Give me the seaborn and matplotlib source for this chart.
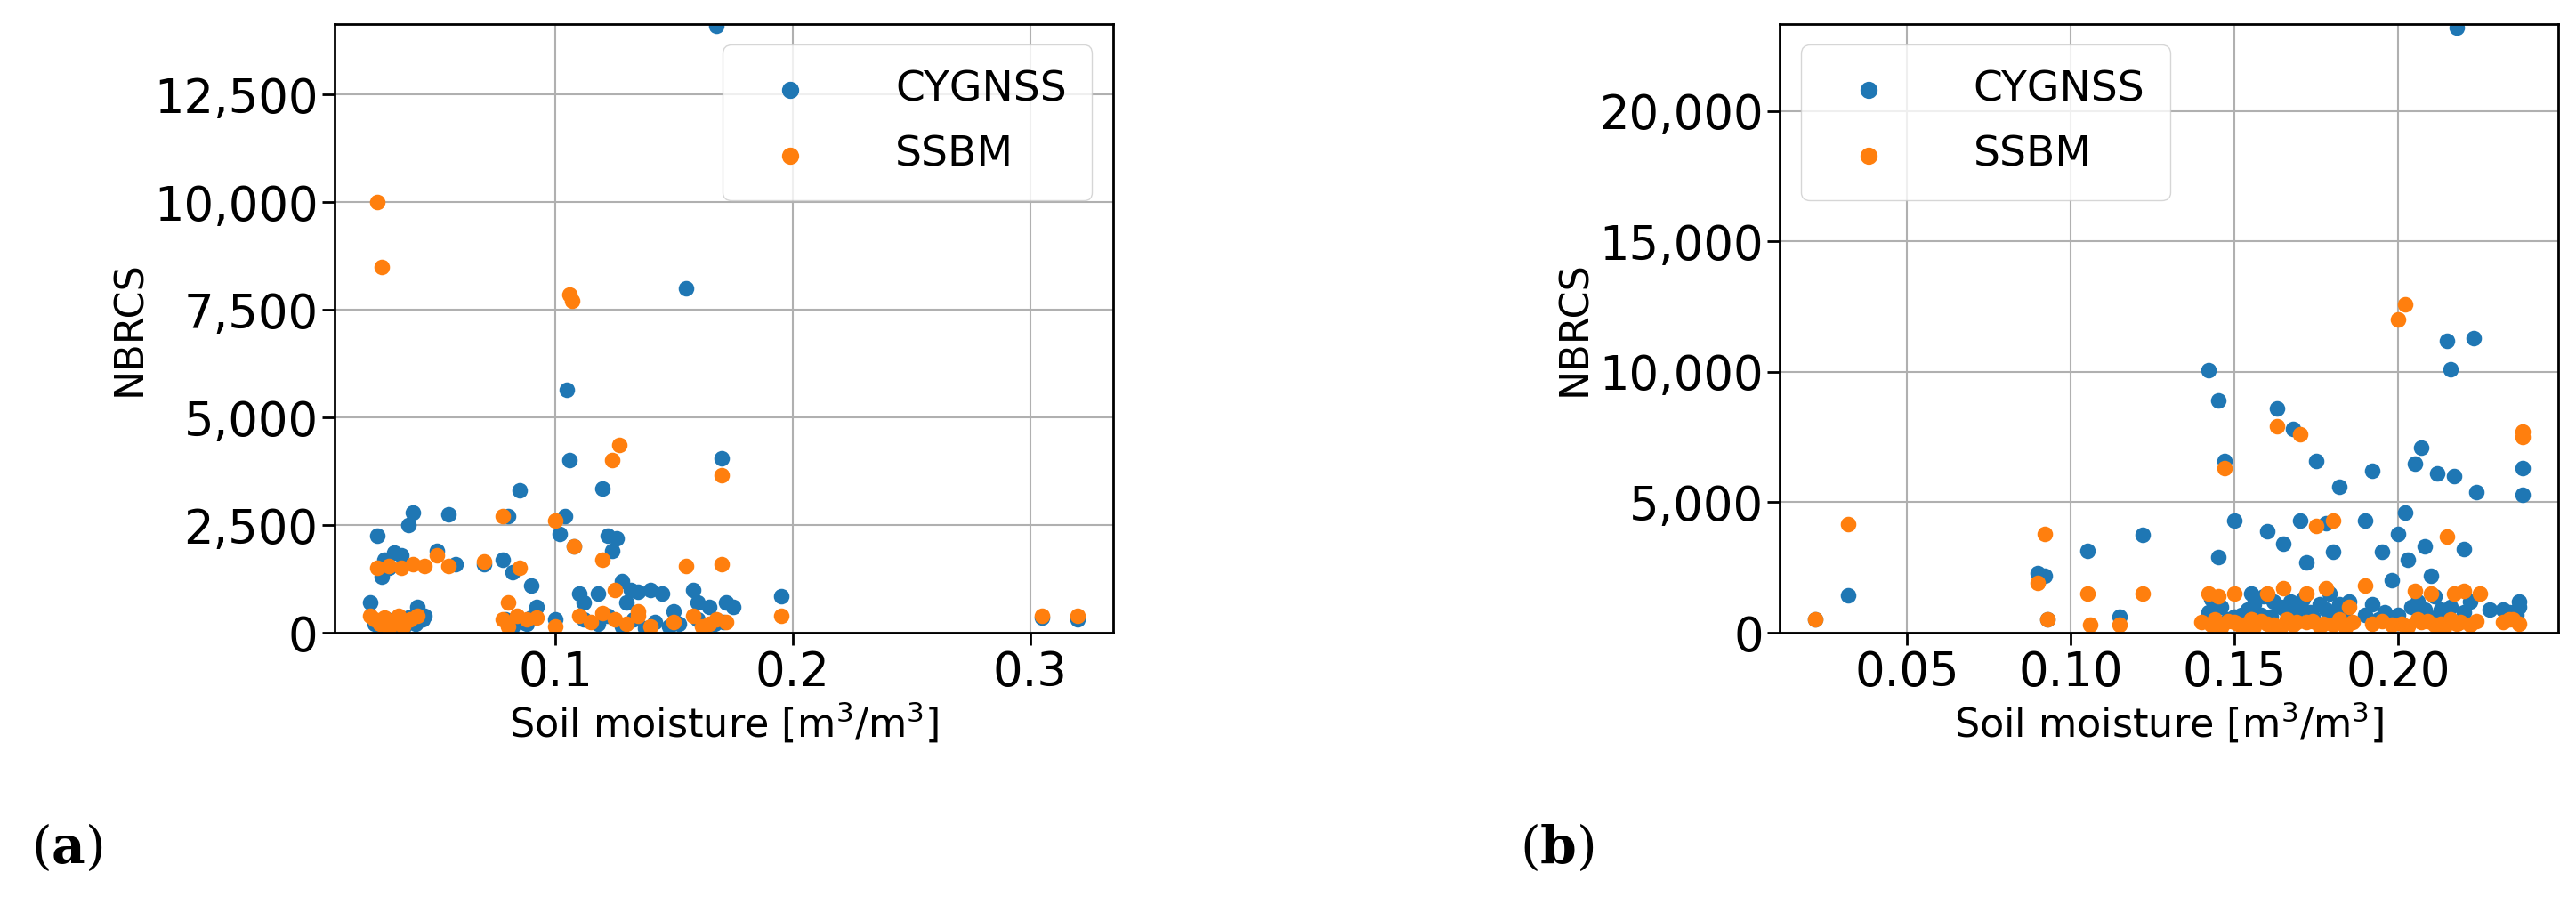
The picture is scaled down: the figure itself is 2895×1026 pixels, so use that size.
import matplotlib
matplotlib.use("Agg")
import matplotlib.pyplot as plt
import seaborn as sns
import numpy as np
from matplotlib.ticker import FuncFormatter

# Panel (a)
a_cyg_x = [0.022,0.025,0.027,0.028,0.03,0.032,0.035,0.038,0.04,0.042,0.045,0.05,0.055,0.058,0.07,0.078,0.08,0.082,0.085,0.088,0.09,0.092,0.1,0.102,0.104,0.105,0.106,0.108,0.11,0.112,0.118,0.12,0.122,0.124,0.126,0.128,0.13,0.132,0.135,0.14,0.145,0.15,0.155,0.158,0.16,0.165,0.168,0.17,0.172,0.175,0.195,0.305,0.32,
           0.024,0.026,0.029,0.031,0.033,0.036,0.038,0.041,0.044,0.079,0.082,0.086,0.09,0.112,0.118,0.122,0.128,0.133,0.138,0.142,0.148,0.152,0.16,0.163,0.167,0.171]
a_cyg_y = [700,2250,1300,1700,1500,1850,1800,2500,2800,600,400,1900,2750,1600,1600,1700,2700,1400,3300,200,1100,600,300,2300,2700,5650,4000,2000,900,700,900,3350,2250,1900,2200,1200,700,1000,950,1000,900,500,8000,1000,700,600,14100,4050,700,600,850,350,300,
           200,100,300,150,250,100,350,200,300,300,150,250,350,300,200,400,150,300,100,250,150,200,300,100,200,250]
a_ssbm_x = [0.025,0.027,0.025,0.03,0.035,0.04,0.045,0.055,0.05,0.07,0.078,0.08,0.085,0.1,0.106,0.107,0.108,0.12,0.124,0.127,0.125,0.135,0.155,0.17,0.17,0.195,0.305,0.32,
            0.022,0.024,0.026,0.028,0.03,0.032,0.034,0.036,0.039,0.042,0.078,0.08,0.084,0.088,0.092,0.1,0.11,0.115,0.12,0.125,0.13,0.135,0.14,0.15,0.158,0.162,0.165,0.168,0.172]
a_ssbm_y = [10000,8500,1500,1550,1500,1600,1550,1550,1800,1650,2700,700,1500,2600,7850,7700,2000,1700,4000,4350,1000,500,1550,3650,1600,400,400,400,
            400,300,200,350,100,250,400,150,300,400,300,150,400,300,350,150,400,250,450,300,200,400,150,250,400,150,200,300,250]

# Panel (b)
b_cyg_x = [0.022,0.032,0.09,0.092,0.093,0.105,0.115,0.122,0.142,0.145,0.147,0.145,0.15,0.155,0.16,0.163,0.165,0.168,0.17,0.172,0.175,0.178,0.18,0.182,0.185,0.19,0.192,0.195,0.198,0.2,0.202,0.203,0.205,0.207,0.208,0.21,0.212,0.215,0.216,0.217,0.218,0.22,0.223,0.224,0.232,0.237,0.238,0.238,
           0.142,0.146,0.15,0.154,0.158,0.162,0.166,0.17,0.174,0.178,0.182,0.19,0.196,0.204,0.208,0.212,0.22,0.228,0.236,
           0.143,0.148,0.152,0.156,0.159,0.161,0.164,0.167,0.169,0.171,0.173,0.176,0.179,0.181,0.184,0.192,0.194,0.2,0.206,0.209,0.211,0.213,0.216,0.222,0.234,0.237]
b_cyg_y = [500,1450,2300,2200,500,3150,600,3750,10050,8900,6600,2900,4300,1500,3900,8600,3400,7800,4300,2700,6600,4200,3100,5600,1200,4300,6200,3100,2000,3800,4600,2800,6500,7100,3300,2200,6100,11200,10100,6000,23200,3200,11300,5400,900,1200,6300,5300,
           800,1000,600,900,700,1200,800,1000,600,900,1100,700,800,1000,900,600,800,900,700,
           1300,500,700,1100,1400,600,1000,1200,500,1300,800,1100,1500,600,900,1100,500,700,1200,600,1400,900,1000,1200,800,1000]
b_ssbm_x = [0.022,0.032,0.09,0.092,0.093,0.105,0.115,0.122,0.14,0.142,0.145,0.147,0.15,0.155,0.16,0.163,0.165,0.17,0.172,0.175,0.178,0.18,0.185,0.19,0.2,0.202,0.205,0.21,0.215,0.217,0.22,0.225,0.235,0.238,0.238,
            0.106,0.143,0.146,0.15,0.153,0.156,0.16,0.164,0.168,0.172,0.176,0.18,0.184,0.192,0.198,0.203,0.207,0.211,0.214,0.218,0.222,0.232,0.237,
            0.144,0.148,0.151,0.155,0.158,0.162,0.166,0.169,0.174,0.177,0.182,0.186,0.195,0.201,0.206,0.209,0.213,0.216,0.219,0.224,0.234]
b_ssbm_y = [500,4150,1900,3800,500,1500,300,1500,400,1500,1400,6300,1500,500,1500,7900,1700,7600,1500,4100,1700,4300,1000,1800,12000,12600,1600,1500,3700,1500,1600,1500,500,7700,7500,
            300,300,200,400,300,250,350,200,300,400,250,300,200,350,300,250,400,300,200,350,300,400,350,
            500,450,350,500,450,300,500,400,450,350,500,400,450,350,500,450,350,500,400,450,500]

labels = ["CYGNSS", "SSBM"]
blue, orange = "#1f77b4", "#ff7f0e"

sns.set_style("whitegrid")
plt.rcParams['font.family'] = ['DejaVu Sans']
plt.rcParams['text.color'] = 'black'
plt.rcParams['axes.labelcolor'] = 'black'
plt.rcParams['xtick.color'] = 'black'
plt.rcParams['ytick.color'] = 'black'
fig = plt.figure(figsize=(28.95, 10.26), dpi=100)
ax1 = fig.add_axes([0.130, 0.307, 0.302, 0.667])
ax2 = fig.add_axes([0.691, 0.307, 0.302, 0.667])

fmt = FuncFormatter(lambda v, p: f"{int(v):,}")
for ax, cx, cy, sx, sy, ymax, loc in [
        (ax1, a_cyg_x, a_cyg_y, a_ssbm_x, a_ssbm_y, 14140, "upper right"),
        (ax2, b_cyg_x, b_cyg_y, b_ssbm_x, b_ssbm_y, 23350, "upper left")]:
    sns.scatterplot(x=cx, y=cy, ax=ax, color=blue, s=160, linewidth=0, label=labels[0])
    sns.scatterplot(x=sx, y=sy, ax=ax, color=orange, s=160, linewidth=0, label=labels[1])
    ax.set_ylim(0, ymax)
    ax.yaxis.set_major_formatter(fmt)
    ax.grid(True, color="#b0b0b0", linewidth=1.5)
    for sp in ax.spines.values():
        sp.set_color("black"); sp.set_linewidth(2)
    ax.tick_params(axis="both", labelsize=38, length=10, width=2, color="black", labelcolor="black", left=True, bottom=True)
    ax.set_xlabel("Soil moisture [m$^3$/m$^3$]", fontsize=32)
    ax.set_ylabel("NBRCS", fontsize=32)
    ax.legend(loc=loc, fontsize=34, markerscale=1.1, handletextpad=1.5, borderpad=0.6, labelspacing=0.6)

ax2.set_xticks([0.05, 0.10, 0.15, 0.20])
ax2.set_xticklabels(["0.05", "0.10", "0.15", "0.20"])

plt.rcParams['mathtext.fontset'] = 'dejavuserif'
fig.text(0.012, 0.055, r"($\mathbf{a}$)", fontsize=42, family="DejaVu Serif")
fig.text(0.59, 0.055, r"($\mathbf{b}$)", fontsize=42, family="DejaVu Serif")
fig.savefig("out.png", dpi=100)
